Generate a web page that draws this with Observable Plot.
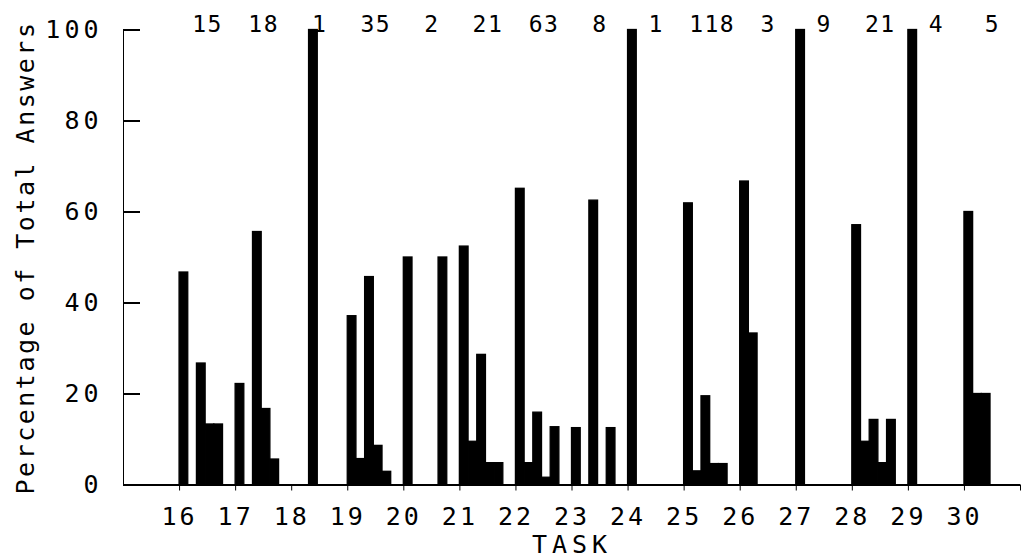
<!DOCTYPE html>
<html><head><meta charset="utf-8">
<script src="https://cdn.jsdelivr.net/npm/d3@7"></script>
<script src="https://cdn.jsdelivr.net/npm/@observablehq/plot@0.6"></script>
<style>
html,body{margin:0;padding:0;background:#fff;}
#chart svg{display:block;}
</style></head><body><div id="chart"></div>
<script>
// Task numbers and number of answers per task (shown above the bars)
const tasks  = [16, 17, 18, 19, 20, 21, 22, 23, 24, 25, 26, 27, 28, 29, 30];
const counts = [15, 18, 1, 35, 2, 21, 63, 8, 1, 118, 3, 9, 21, 4, 5];

// Percentage of total answers for each answer slot within a task
const task16 = [46.7, 0, 26.7, 13.3, 13.3];
const task17 = [22.2, 0, 55.6, 16.7, 5.6];
const task18 = [0, 0, 100];
const task19 = [37.1, 5.7, 45.7, 8.6, 2.9];
const task20 = [50, 0, 0, 0, 50];
const task21 = [52.4, 9.5, 28.6, 4.8, 4.8];
const task22 = [65.1, 4.8, 15.9, 1.6, 12.7];
const task23 = [12.5, 0, 62.5, 0, 12.5];
const task24 = [100];
const task25 = [61.9, 3.0, 19.5, 4.6, 4.6];
const task26 = [66.7, 33.3];
const task27 = [100];
const task28 = [57.1, 9.5, 14.3, 4.8, 14.3];
const task29 = [100];
const task30 = [60, 20, 20];

const xTicks = [16, 17, 18, 19, 20, 21, 22, 23, 24, 25, 26, 27, 28, 29, 30, 31];
const yTicks = [0, 20, 40, 60, 80, 100];
const xLabel = "TASK";
const yLabel = "Percentage of Total Answers";

const shares = [task16, task17, task18, task19, task20, task21, task22, task23,
                task24, task25, task26, task27, task28, task29, task30];
const table = tasks.flatMap((t, i) =>
  shares[i].map((v, s) => ({task: t, slot: s, pct: v}))).filter(d => d.pct > 0);
const countTable = tasks.map((t, i) => ({task: t, n: counts[i]}));

const W = 1022, H = 558, mL = 123, mR = 2, mT = 29.5, mB = 73.5;
const xDomain = [15, 31];
const slotW = 0.155;   // width of one answer slot, in task units
const yTickLen = 17;   // inward y-tick length, px
const pxPerUnit = (W - mL - mR) / (xDomain[1] - xDomain[0]);
const font = "DejaVu Sans Mono, monospace";

const chart = Plot.plot({
  width: W, height: H,
  marginLeft: mL, marginRight: mR, marginTop: mT, marginBottom: mB,
  style: {fontFamily: font, background: "white", color: "black"},
  x: {type: "linear", domain: xDomain, axis: null},
  y: {domain: [0, 100], axis: null},
  marks: [
    Plot.rectY(table, {
      x1: d => d.task + d.slot * slotW,
      x2: d => d.task + (d.slot + 1) * slotW,
      y1: 0, y2: "pct",
      fill: "black", stroke: "black", strokeWidth: 1.3
    }),
    Plot.ruleX([xDomain[0]], {stroke: "black", strokeWidth: 1}),
    Plot.ruleY([0], {stroke: "black", strokeWidth: 2}),
    // inward y ticks
    Plot.ruleY(yTicks, {
      y: d => d, x1: xDomain[0], x2: xDomain[0] + yTickLen / pxPerUnit,
      stroke: "black", strokeWidth: 2
    }),
    Plot.axisY(yTicks, {
      anchor: "left", tickSize: 0, tickPadding: 21, label: null,
      fontSize: 25, tickFormat: d => String(d)
    }),
    Plot.axisX(xTicks, {
      anchor: "bottom", tickSize: 6, tickPadding: 16, strokeWidth: 1, label: null,
      fontSize: 25, tickFormat: d => d === 31 ? "" : String(d)
    }),
    Plot.text(countTable, {
      x: d => d.task + 0.5, y: 100, text: d => String(d.n),
      dy: -5, fontSize: 23, lineAnchor: "middle", fill: "black"
    }),
    Plot.text([yLabel], {
      frameAnchor: "left", dx: -98, rotate: -90, fontSize: 25,
      lineAnchor: "middle", textAnchor: "middle", fill: "black"
    }),
    Plot.text([xLabel], {
      frameAnchor: "bottom", dy: 59.5, fontSize: 25,
      lineAnchor: "middle", textAnchor: "middle", fill: "black"
    })
  ]
});

// letter spacing to mimic the wide pen-plotter lettering
d3.select(chart).selectAll("text").each(function() {
  const el = d3.select(this);
  const grp = this.parentNode.getAttribute("aria-label") || "";
  const t = this.textContent;
  if (grp.includes("y-axis tick label")) el.style("letter-spacing", "4px");
  else if (grp.includes("x-axis tick label")) el.style("letter-spacing", "3px");
  else if (t === yLabel) el.style("letter-spacing", "2.5px");
  else if (t === xLabel) el.style("letter-spacing", "5px");
  else el.style("letter-spacing", "1.5px");
});

document.getElementById("chart").appendChild(chart);
</script>
</body></html>
